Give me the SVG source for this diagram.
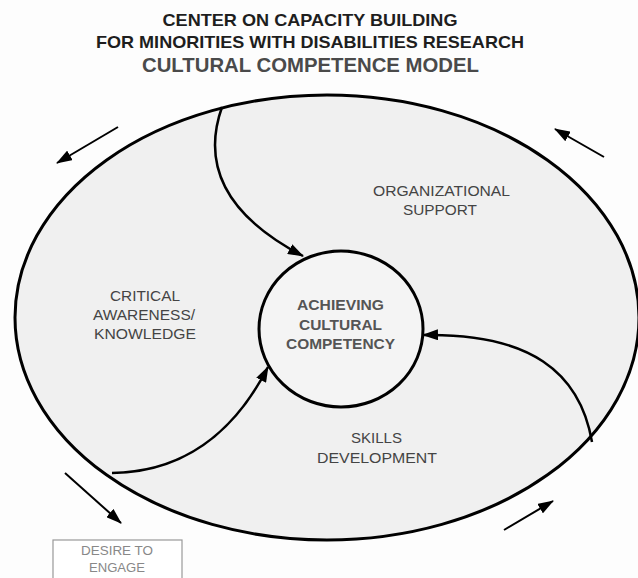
<svg xmlns="http://www.w3.org/2000/svg" width="638" height="578" viewBox="0 0 638 578">
<defs>
<marker id="ah" viewBox="0 0 16 11" refX="15" refY="5.5" markerWidth="16" markerHeight="11" markerUnits="userSpaceOnUse" orient="auto">
<path d="M0,0 L16,5.5 L0,11 z" fill="#000"/>
</marker>
<style>
text{font-family:"Liberation Sans",Arial,sans-serif;text-anchor:middle}
.t{font-weight:bold;font-size:17px;fill:#1e1e1e}
.t3{font-weight:bold;font-size:20px;fill:#4a4a4a}
.lbl{font-size:15px;fill:#444}
.ctr{font-weight:bold;font-size:15.5px;fill:#555}
.box{font-size:13.5px;fill:#888}
.conn{fill:none;stroke:#000;stroke-width:2.5}
.mv{fill:none;stroke:#000;stroke-width:2}
</style>
</defs>
<rect width="638" height="578" fill="#fdfdfd"/>
<g id="title">
<text class="t" x="310" y="26" textLength="295" lengthAdjust="spacingAndGlyphs">CENTER ON CAPACITY BUILDING</text>
<text class="t" x="310" y="47.5" textLength="428" lengthAdjust="spacingAndGlyphs">FOR MINORITIES WITH DISABILITIES RESEARCH</text>
<text class="t3" x="310.5" y="71.5" textLength="337" lengthAdjust="spacingAndGlyphs">CULTURAL COMPETENCE MODEL</text>
</g>
<g id="outer">
<ellipse cx="327" cy="317.5" rx="312" ry="222.5" fill="#f0f0f0" stroke="#000" stroke-width="3"/>
</g>
<g id="connectors">
<path class="conn" d="M222,107 C198,175 238,222 303,256" marker-end="url(#ah)"/>
<path class="conn" d="M112,473 C200,472 245,412 268,367" marker-end="url(#ah)"/>
<path class="conn" d="M592,442 C580,372 530,333 423,335" marker-end="url(#ah)"/>
<path class="mv" d="M118,127 L57,163" marker-end="url(#ah)"/>
<path class="mv" d="M604,157 L555,129" marker-end="url(#ah)"/>
<path class="mv" d="M65,473 L121,523" marker-end="url(#ah)"/>
<path class="mv" d="M504,530 L553,501" marker-end="url(#ah)"/>
</g>
<g id="center">
<ellipse cx="341" cy="329" rx="82" ry="78" fill="#f4f4f4" stroke="#000" stroke-width="3"/>
<text class="ctr" x="340.5" y="310" textLength="87" lengthAdjust="spacingAndGlyphs">ACHIEVING</text>
<text class="ctr" x="340.5" y="330" textLength="83" lengthAdjust="spacingAndGlyphs">CULTURAL</text>
<text class="ctr" x="340.5" y="349" textLength="109" lengthAdjust="spacingAndGlyphs">COMPETENCY</text>
</g>
<g id="critical">
<text class="lbl" x="145" y="301" textLength="70" lengthAdjust="spacingAndGlyphs">CRITICAL</text>
<text class="lbl" x="144" y="320" textLength="102" lengthAdjust="spacingAndGlyphs">AWARENESS/</text>
<text class="lbl" x="145" y="339" textLength="102" lengthAdjust="spacingAndGlyphs">KNOWLEDGE</text>
</g>
<g id="organizational">
<text class="lbl" x="441.5" y="196" textLength="137" lengthAdjust="spacingAndGlyphs">ORGANIZATIONAL</text>
<text class="lbl" x="440" y="215" textLength="74" lengthAdjust="spacingAndGlyphs">SUPPORT</text>
</g>
<g id="skills">
<text class="lbl" x="376.5" y="443" textLength="51" lengthAdjust="spacingAndGlyphs">SKILLS</text>
<text class="lbl" x="377" y="463" textLength="120" lengthAdjust="spacingAndGlyphs">DEVELOPMENT</text>
</g>
<g id="desire">
<rect x="53" y="540" width="129" height="45" fill="#fff" stroke="#999" stroke-width="1.2"/>
<text class="box" x="117" y="555" textLength="72" lengthAdjust="spacingAndGlyphs">DESIRE TO</text>
<text class="box" x="117" y="572" textLength="56" lengthAdjust="spacingAndGlyphs">ENGAGE</text>
</g>
</svg>
